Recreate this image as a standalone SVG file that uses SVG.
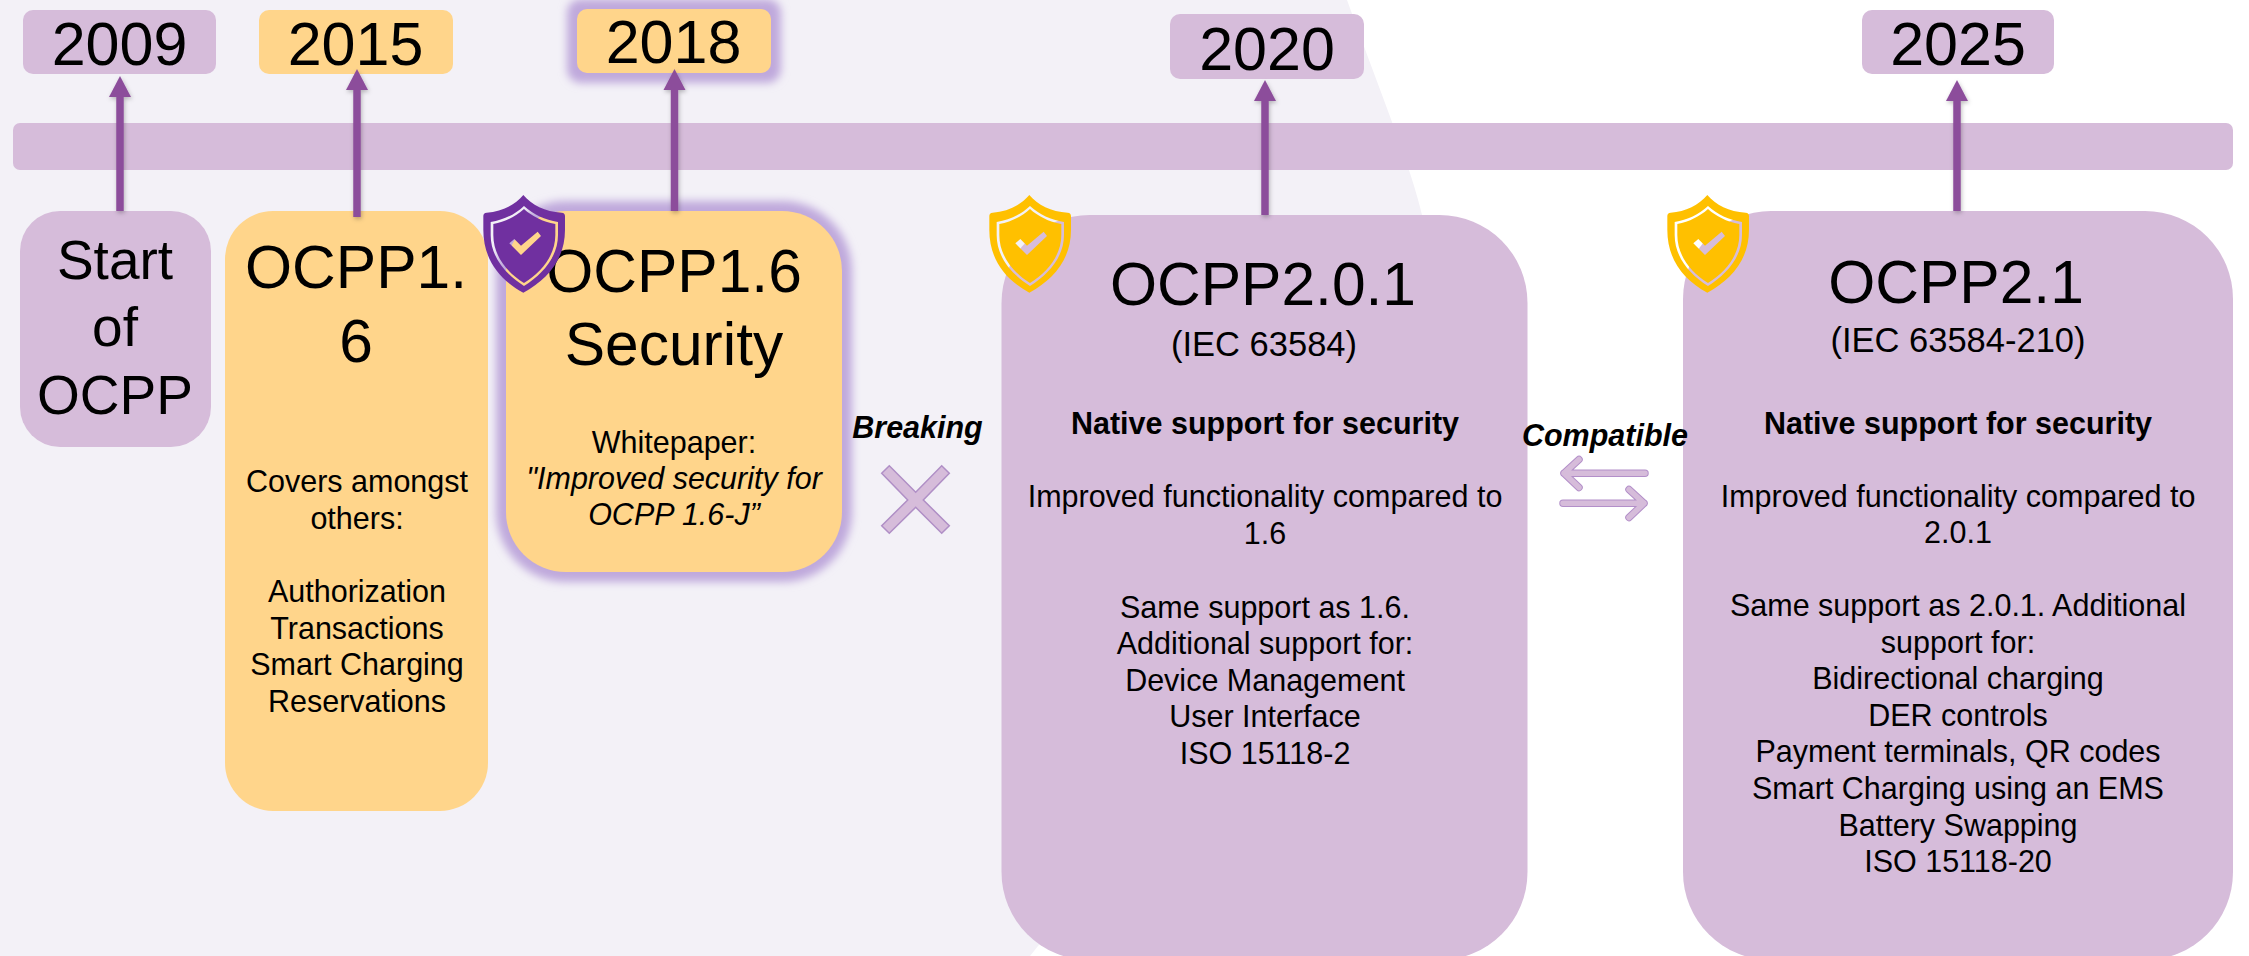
<svg xmlns="http://www.w3.org/2000/svg" width="2249" height="956" viewBox="0 0 2249 956">
<style>
text{font-family:"Liberation Sans",Arial,sans-serif;fill:#000;text-anchor:middle}
.p{fill:#D6BCDA}
.o{fill:#FFD58B}
.yr{font-size:61px}
.h{font-size:60.5px}
.s{font-size:34.5px}
.b{font-size:30.5px}
.bb{font-size:30.5px;font-weight:bold}
.bi{font-size:30.5px;font-weight:bold;font-style:italic}
.i{font-style:italic}
.halo{fill:#BFA9DC;filter:url(#blur)}
.ar{stroke:#8C4D9B;stroke-width:7.5;fill:none}
.ah{fill:#8C4D9B}
.sym-o{fill:none;stroke:#B38FC9;stroke-width:7.5;stroke-linecap:round;stroke-linejoin:round}
.sym-i{fill:none;stroke:#D6BCDA;stroke-width:5.5;stroke-linecap:round;stroke-linejoin:round}
</style>
<defs>
<filter id="blur" x="-20%" y="-20%" width="140%" height="140%"><feGaussianBlur stdDeviation="4"/></filter>
<filter id="sh" x="-100%" y="-10%" width="300%" height="120%"><feDropShadow dx="1" dy="2" stdDeviation="2" flood-color="#000" flood-opacity=".25"/></filter>
<path id="shield" fill-rule="evenodd" d="M160 45C135 75 95 95 50 98Q40 99 40 108L40 150C40 240 90 300 160 338C230 300 285 240 285 150L285 108Q285 99 275 98C225 95 185 75 160 45Z M162 78C135 104 100 120 62 126L62 165C62 232 108 284 162 318C216 284 264 232 264 165L264 126C225 120 190 104 162 78Z M162 87C138 109 106 125 70 132L70 165C70 228 112 278 162 309C212 278 256 228 256 165L256 132C218 125 186 109 162 87Z M118 190L133 177L153 197L203 155L213 168L153 225Z"/>
</defs>
<rect width="2249" height="956" fill="#fff"/>
<path id="backdrop" fill="#F3F1F7" d="M0 0H1347C1385 105 1412 170 1422 215L1400 600L1038 946L1030 956H0Z"/>
<rect id="timeline" class="p" x="13" y="123" width="2220" height="47" rx="7"/>

<g id="node-2009"><rect class="p" x="23" y="10" width="193" height="64" rx="10"/><text class="yr" x="119.500" y="65">2009</text></g>
<g id="node-2015"><rect class="o" x="259" y="10" width="194" height="64" rx="10"/><text class="yr" x="355.500" y="65">2015</text></g>
<g id="node-2018"><rect class="halo" x="567" y="-1" width="214" height="84" rx="14"/><rect class="o" x="577" y="9" width="194" height="64" rx="10"/><text class="yr" x="673.500" y="63">2018</text></g>
<g id="node-2020"><rect class="p" x="1170" y="14" width="194" height="65" rx="10"/><text class="yr" x="1267" y="70">2020</text></g>
<g id="node-2025"><rect class="p" x="1862" y="10" width="192" height="64" rx="10"/><text class="yr" x="1958" y="65">2025</text></g>

<g id="node-start"><rect class="p" x="20" y="211" width="191" height="236" rx="40"/>
<text style="font-size:55px"><tspan x="115" y="279">Start</tspan><tspan x="115" y="346">of</tspan><tspan x="115" y="414">OCPP</tspan></text></g>

<g id="node-ocpp16"><rect class="o" x="225" y="211" width="263" height="600" rx="48"/>
<text class="h"><tspan x="356" y="288">OCPP1.</tspan><tspan x="356" y="362">6</tspan></text>
<text class="b"><tspan x="357" y="492">Covers amongst</tspan><tspan x="357" y="529">others:</tspan><tspan x="357" y="602">Authorization</tspan><tspan x="357" y="639">Transactions</tspan><tspan x="357" y="675">Smart Charging</tspan><tspan x="357" y="712">Reservations</tspan></text></g>

<g id="node-ocpp16-security"><rect class="halo" x="496" y="201" width="356" height="381" rx="70"/><rect class="o" x="506" y="211" width="336" height="361" rx="60"/>
<text class="h"><tspan x="674" y="292">OCPP1.6</tspan><tspan x="674" y="365">Security</tspan></text>
<text class="b"><tspan x="674" y="453">Whitepaper:</tspan><tspan class="i" x="674" y="489">"Improved security for</tspan><tspan class="i" x="674" y="525">OCPP 1.6-J”</tspan></text>
<use href="#shield" fill="#7030A0" transform="translate(470 180) scale(.3333)"/></g>

<g id="node-ocpp201"><rect class="p" x="1001.500" y="215" width="526" height="745" rx="88"/>
<text class="h" x="1263" y="305">OCPP2.0.1</text>
<text class="s" x="1264" y="356">(IEC 63584)</text>
<text class="bb" x="1265" y="434">Native support for security</text>
<text class="b"><tspan x="1265" y="507">Improved functionality compared to</tspan><tspan x="1265" y="544">1.6</tspan><tspan x="1265" y="618">Same support as 1.6.</tspan><tspan x="1265" y="654">Additional support for:</tspan><tspan x="1265" y="691">Device Management</tspan><tspan x="1265" y="727">User Interface</tspan><tspan x="1265" y="764">ISO 15118-2</tspan></text>
<use href="#shield" fill="#FFC000" transform="translate(976 180) scale(.3333)"/></g>

<g id="node-ocpp21"><rect class="p" x="1683" y="211" width="550" height="749" rx="88"/>
<text class="h" x="1956" y="303">OCPP2.1</text>
<text class="s" x="1958" y="352">(IEC 63584-210)</text>
<text class="bb" x="1958" y="434">Native support for security</text>
<text class="b"><tspan x="1958" y="507">Improved functionality compared to</tspan><tspan x="1958" y="543">2.0.1</tspan><tspan x="1958" y="616">Same support as 2.0.1. Additional</tspan><tspan x="1958" y="653">support for:</tspan><tspan x="1958" y="689">Bidirectional charging</tspan><tspan x="1958" y="726">DER controls</tspan><tspan x="1958" y="762">Payment terminals, QR codes</tspan><tspan x="1958" y="799">Smart Charging using an EMS</tspan><tspan x="1958" y="836">Battery Swapping</tspan><tspan x="1958" y="872">ISO 15118-20</tspan></text>
<use href="#shield" fill="#FFC000" transform="translate(1654 180) scale(.3333)"/></g>

<g id="connectors">
<g filter="url(#sh)"><path class="ar" d="M120 211V95"/><path class="ah" d="M120 76L131 97H109Z"/></g>
<g filter="url(#sh)"><path class="ar" d="M357 217V88"/><path class="ah" d="M357 69L368 90H346Z"/></g>
<g filter="url(#sh)"><path class="ar" d="M674.500 211V88"/><path class="ah" d="M674.500 69L685.500 90H663.500Z"/></g>
<g filter="url(#sh)"><path class="ar" d="M1265 215V99"/><path class="ah" d="M1265 80L1276 101H1254Z"/></g>
<g filter="url(#sh)"><path class="ar" d="M1957 211V99"/><path class="ah" d="M1957 80L1968 101H1946Z"/></g>
</g>

<g id="breaking"><text class="bi" x="917.500" y="438">Breaking</text>
<path fill="#D6BCDA" stroke="#B08FC6" stroke-width="1.500" d="M889.300 465.700L881.700 473.300L907.700 500L881.700 525.700L889.300 533.300L915.700 507.300L941.700 533.300L949.300 525.700L923.300 500L949.300 473.300L941.700 465.700L915.700 492.300Z"/></g>

<g id="compatible"><text class="bi" x="1605" y="446">Compatible</text>
<path class="sym-o" d="M1645 473.300H1564M1579 459.500L1564 473.300L1579 487.500"/><path class="sym-i" d="M1645 473.300H1564M1579 459.500L1564 473.300L1579 487.500"/>
<path class="sym-o" d="M1563 503.300H1644M1629 489.500L1644 503.300L1629 517.500"/><path class="sym-i" d="M1563 503.300H1644M1629 489.500L1644 503.300L1629 517.500"/></g>
</svg>
